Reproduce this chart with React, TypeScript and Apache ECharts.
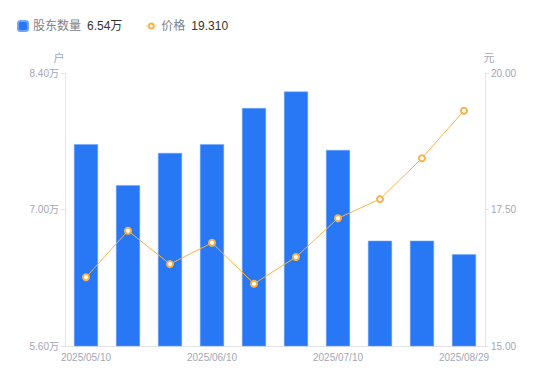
import React, { useEffect, useRef } from "react";
import * as echarts from "echarts";

const categories = [
  "2025/05/10", "2025/05/20", "2025/05/30", "2025/06/10", "2025/06/20",
  "2025/06/30", "2025/07/10", "2025/07/20", "2025/07/31", "2025/08/29",
];
const holders = [76700, 72500, 75800, 76700, 80400, 82100, 76100, 66800, 66800, 65400];
const prices = [16.26, 17.11, 16.5, 16.89, 16.14, 16.63, 17.34, 17.69, 18.44, 19.31];

const legendValues: Record<string, string> = {
  "股东数量": "6.54万",
  "价格": "19.310",
};

const lineIcon =
  "path://M0,4.4h2.2v1.2h-2.2z M7.8,4.4h2.2v1.2h-2.2z M5,1.5A3.5,3.5 0 1 0 5,8.5A3.5,3.5 0 1 0 5,1.5z M5,3.5A1.5,1.5 0 1 1 5,6.5A1.5,1.5 0 1 1 5,3.5z";

export default function App() {
  const ref = useRef<HTMLDivElement>(null);
  useEffect(() => {
    if (!ref.current) return;
    const chart = echarts.init(ref.current, undefined, { renderer: "svg" });
    const labelColor = "#a3a6b4";
    const axisLineColor = "#e3e4e8";
    chart.setOption({
      animation: false,
      textStyle: { fontFamily: "'Liberation Sans', Arial, 'Noto Sans CJK SC', sans-serif" },
      legend: {
        left: 12,
        top: 15,
        itemWidth: 10,
        itemHeight: 10,
        itemGap: 24,
        data: [
          { name: "股东数量", icon: "roundRect" },
          { name: "价格", icon: lineIcon, itemStyle: { color: "#f9b248" } },
        ],
        formatter: (name: string) => `{n|${name}}{v|${legendValues[name]}}`,
        textStyle: {
          rich: {
            n: { color: "#7c7f8c", fontSize: 12, padding: [0, 6, 0, 0] },
            v: { color: "#333", fontSize: 12 },
          },
        },
      },
      grid: { left: 65, right: 65, top: 73, bottom: 35 },
      xAxis: {
        type: "category",
        data: categories,
        axisLine: { lineStyle: { color: axisLineColor } },
        axisTick: { show: false },
        axisLabel: {
          color: labelColor,
          fontSize: 10,
          interval: 2,
          margin: 6,
        },
      },
      yAxis: [
        {
          type: "value",
          name: "户",
          nameTextStyle: { color: labelColor, fontSize: 11, padding: [0, 12, 0, 0] },
          nameGap: 10,
          min: 56000,
          max: 84000,
          interval: 14000,
          axisLine: { show: true, lineStyle: { color: axisLineColor } },
          axisTick: { show: true, length: 4, lineStyle: { color: axisLineColor } },
          splitLine: { show: false },
          axisLabel: {
            color: labelColor,
            fontSize: 10,
            margin: 6,
            formatter: (v: number) => (v / 10000).toFixed(2) + "万",
          },
        },
        {
          type: "value",
          name: "元",
          nameTextStyle: { color: labelColor, fontSize: 11, padding: [0, 0, 0, 8] },
          nameGap: 10,
          min: 15,
          max: 20,
          interval: 2.5,
          axisLine: { show: true, lineStyle: { color: axisLineColor } },
          axisTick: { show: true, length: 4, lineStyle: { color: axisLineColor } },
          splitLine: { show: false },
          axisLabel: {
            color: labelColor,
            fontSize: 10,
            margin: 6,
            formatter: (v: number) => v.toFixed(2),
          },
        },
      ],
      series: [
        {
          name: "股东数量",
          type: "bar",
          data: holders,
          barWidth: 24,
          itemStyle: { color: "#2878f5", borderColor: "#6fa4f8", borderWidth: 0.5 },
        },
        {
          name: "价格",
          type: "line",
          yAxisIndex: 1,
          data: prices,
          symbol: "emptyCircle",
          symbolSize: 6,
          lineStyle: { color: "#f9b248", width: 1 },
          itemStyle: { color: "#f9b248", borderWidth: 1.5 },
        },
      ],
    });
    return () => chart.dispose();
  }, []);
  return <div ref={ref} style={{ width: 550, height: 381, marginLeft: -8, marginTop: -8 }} />;
}
